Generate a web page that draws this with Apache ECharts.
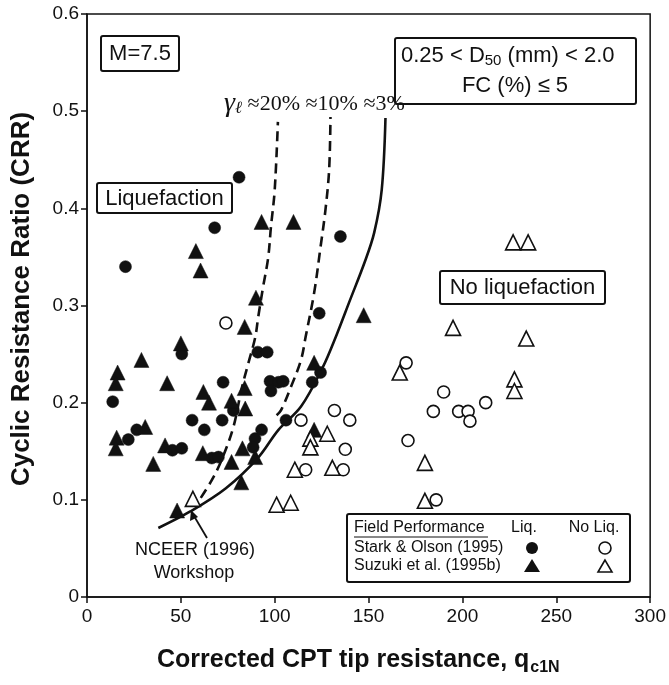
<!DOCTYPE html>
<html><head><meta charset="utf-8">
<script src="https://cdn.jsdelivr.net/npm/echarts@6/dist/echarts.min.js"></script>
<style>html,body{margin:0;padding:0;background:#fff}#c{width:669px;height:685px}</style>
</head><body><div id="c"></div>
<script>
// ---- data (qc1N, CRR) ----
const xTicks = [0, 50, 100, 150, 200, 250, 300];
const yTicks = [0, 0.1, 0.2, 0.3, 0.4, 0.5, 0.6];

const starkLiq = [
  [81,0.432],[68,0.38],[20.5,0.34],[135,0.371],[123.7,0.292],[50.5,0.25],[91,0.252],[96,0.252],
  [124.4,0.231],[120,0.221],[97.5,0.222],[102,0.221],[104.5,0.222],[72.5,0.221],[98,0.212],
  [78,0.192],[56,0.182],[72,0.182],[106,0.182],[62.5,0.172],[13.7,0.201],[22,0.162],[26.5,0.172],
  [45.5,0.151],[50.5,0.153],[66.5,0.143],[70,0.144],[89.5,0.163],[93,0.172],[88.5,0.154]
];
const suzukiLiq = [
  [93,0.386],[110,0.386],[58,0.356],[60.5,0.336],[90,0.308],[84,0.278],[50,0.261],[147.4,0.29],
  [121,0.241],[29,0.244],[16.3,0.231],[15.3,0.22],[42.7,0.22],[84,0.215],[62,0.211],[65,0.2],
  [77,0.202],[84.3,0.194],[121,0.172],[15.8,0.164],[31,0.175],[15.3,0.153],[41.6,0.156],
  [35.3,0.137],[61.7,0.148],[77,0.139],[82.8,0.153],[82.2,0.118],[89.6,0.144],[48,0.089]
];
const starkNoLiq = [
  [74,0.282],[114,0.182],[131.8,0.192],[140,0.182],[137.6,0.152],[116.5,0.131],[136.5,0.131],
  [170,0.241],[190,0.211],[184.5,0.191],[198,0.191],[203,0.191],[204,0.181],[212.4,0.2],
  [171,0.161],[186,0.1]
];
const suzukiNoLiq = [
  [56.4,0.101],[101,0.095],[108.5,0.097],[119,0.163],[119,0.154],[128,0.168],[110.7,0.131],
  [130.7,0.133],[166.6,0.231],[180,0.138],[180,0.099],[227,0.365],[235,0.365],[195,0.277],
  [234,0.266],[227.7,0.224],[227.7,0.212]
];
const curve3 = [
  [38,0.071],[55,0.088],[74,0.112],[91,0.143],[102,0.172],[114,0.196],[125.5,0.236],
  [133,0.27],[140,0.305],[148,0.345],[153,0.375],[157,0.419],[159,0.493]
];
const curve10 = [
  [101,0.187],[103.3,0.192],[108.6,0.216],[114,0.244],[116.5,0.268],[121,0.313],[124.4,0.36],
  [127,0.398],[129,0.44],[129.7,0.494]
];
const curve20 = [
  [60.6,0.102],[66.4,0.12],[71.7,0.141],[78,0.175],[82.2,0.213],[86,0.241],[89.6,0.267],
  [91.2,0.288],[93.8,0.319],[96.5,0.349],[98,0.381],[100,0.419],[101.7,0.489]
];

const SANS = '"Liberation Sans", Arial, sans-serif';
const SERIF = '"Liberation Serif", "Times New Roman", serif';

const chart = echarts.init(document.getElementById('c'), null, {renderer: 'canvas'});

function scat(name, data, symbol, size, filled) {
  return {
    name, type: 'scatter', data, symbol, symbolSize: size, z: 5,
    itemStyle: filled ? {color: '#111', borderColor: '#111', borderWidth: 0.5, opacity: 1}
                      : {color: '#fff', borderColor: '#111', borderWidth: 1.6, opacity: 1}
  };
}
function curve(data, dashed) {
  return {
    type: 'line', data, showSymbol: false, smooth: 0.35, z: 3, silent: true,
    lineStyle: {color: '#111', width: 2.6, type: dashed ? [10, 6] : 'solid'}
  };
}

const box = (x, y, w, h) => ({type: 'rect', shape: {x, y, width: w, height: h, r: 2},
  style: {fill: '#fff', stroke: '#111', lineWidth: 2}, z: 10});
const txt = (x, y, text, font, align, extra) => ({type: 'text', z: 11,
  style: Object.assign({x, y, text, font, fill: '#111', textAlign: align || 'center', textVerticalAlign: 'middle'}, extra || {})});

chart.setOption({
  animation: false,
  backgroundColor: '#fff',
  grid: {left: 87, right: 13, top: 14, bottom: 88, show: true, borderColor: '#111', borderWidth: 1.5, backgroundColor: 'transparent'},
  xAxis: {
    type: 'value', min: xTicks[0], max: xTicks[xTicks.length - 1], interval: 50,
    axisLine: {onZero: false, lineStyle: {color: '#111', width: 1.5}},
    axisTick: {show: true, length: 6, lineStyle: {color: '#111', width: 1.5}},
    axisLabel: {color: '#111', fontSize: 19, fontFamily: SANS, margin: 10},
    splitLine: {show: false}
  },
  yAxis: {
    type: 'value', min: yTicks[0], max: yTicks[yTicks.length - 1], interval: 0.1,
    axisLine: {onZero: false, lineStyle: {color: '#111', width: 1.5}},
    axisTick: {show: true, length: 6, lineStyle: {color: '#111', width: 1.5}},
    axisLabel: {color: '#111', fontSize: 19, fontFamily: SANS, margin: 8,
      formatter: v => (Math.round(v * 10) / 10).toString()},
    splitLine: {show: false}
  },
  series: [
    curve(curve3, false), curve(curve10, true), curve(curve20, true),
    scat('Stark & Olson (1995) Liq.', starkLiq, 'circle', 12, true),
    scat('Suzuki et al. (1995b) Liq.', suzukiLiq, 'triangle', 15, true),
    scat('Stark & Olson (1995) No Liq.', starkNoLiq, 'circle', 12, false),
    scat('Suzuki et al. (1995b) No Liq.', suzukiNoLiq, 'triangle', 15, false)
  ],
  graphic: [
    // axis titles
    {type: 'text', z: 11, x: 22, y: 299, rotation: Math.PI / 2,
      style: {x: 0, y: 0, text: 'Cyclic Resistance Ratio (CRR)', font: 'bold 26px ' + SANS, fill: '#111',
        textAlign: 'center', textVerticalAlign: 'middle'}},
    {type: 'text', z: 11, left: 157, top: 648,
      style: {text: '{m|Corrected CPT tip resistance, q}{s|c1N}', fill: '#111',
        rich: {m: {font: 'bold 25px ' + SANS, fill: '#111'},
               s: {font: 'bold 16px ' + SANS, fill: '#111', padding: [14, 0, 0, 1]}}}},
    // boxes
    box(101, 36, 78, 35), txt(140, 54, 'M=7.5', '22px ' + SANS),
    box(395, 38, 241, 66),
    {type: 'text', z: 11, left: 401, top: 45,
      style: {text: '{m|0.25 < D}{s|50}{m| (mm) < 2.0}', fill: '#111',
        rich: {m: {font: '22px ' + SANS, fill: '#111'}, s: {font: '15px ' + SANS, fill: '#111', padding: [10, 0, 0, 0]}}}},
    txt(515, 86, 'FC (%) \u2264 5', '22px ' + SANS),
    box(97, 183, 135, 30), txt(164.5, 199, 'Liquefaction', '22px ' + SANS),
    box(440, 271, 165, 33), txt(522.5, 288, 'No liquefaction', '22px ' + SANS),
    // strain labels
    {type: 'text', z: 11, left: 224, top: 90,
      style: {text: '{g|\u03B3}{l|\u2113}{t| \u224820% \u224810% \u22483%}', fill: '#111',
        rich: {g: {font: 'italic 28px ' + SERIF, fill: '#111'},
               l: {font: 'italic 17px ' + SERIF, fill: '#111', padding: [10, 0, 0, 0]},
               t: {font: '22px ' + SERIF, fill: '#111'}}}},
    // NCEER annotation
    txt(195, 550, 'NCEER (1996)', '18px ' + SANS),
    txt(194, 573, 'Workshop', '18px ' + SANS),
    {type: 'line', z: 11, shape: {x1: 207, y1: 538, x2: 194, y2: 516}, style: {stroke: '#111', lineWidth: 1.8}},
    {type: 'polygon', z: 11, shape: {points: [[191, 510], [190, 521], [198, 517]]}, style: {fill: '#111'}},
    // legend box
    box(347, 514, 283, 68),
    txt(354, 528, 'Field Performance', '16px ' + SANS, 'left'),
    {type: 'line', z: 11, shape: {x1: 354, y1: 537, x2: 488, y2: 537}, style: {stroke: '#111', lineWidth: 1.2}},
    txt(524, 528, 'Liq.', '16px ' + SANS),
    txt(594, 528, 'No Liq.', '16px ' + SANS),
    txt(354, 548, 'Stark & Olson (1995)', '16px ' + SANS, 'left'),
    txt(354, 566, 'Suzuki et al. (1995b)', '16px ' + SANS, 'left'),
    {type: 'circle', z: 11, shape: {cx: 532, cy: 548, r: 6}, style: {fill: '#111'}},
    {type: 'polygon', z: 11, shape: {points: [[532, 559], [524, 572], [540, 572]]}, style: {fill: '#111'}},
    {type: 'circle', z: 11, shape: {cx: 605, cy: 548, r: 6}, style: {fill: '#fff', stroke: '#111', lineWidth: 1.6}},
    {type: 'polygon', z: 11, shape: {points: [[605, 560], [598, 572], [612, 572]]}, style: {fill: '#fff', stroke: '#111', lineWidth: 1.6}}
  ]
});
</script>
</body></html>
